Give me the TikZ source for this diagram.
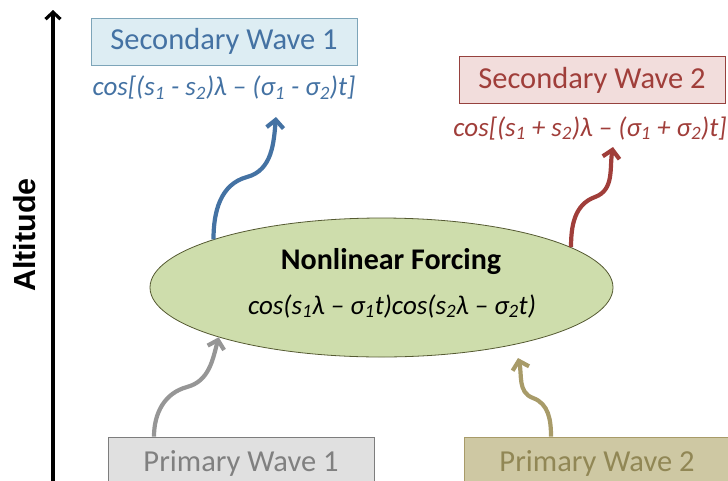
\documentclass[tikz,border=0pt]{standalone}
\usepackage{fontspec}
\setmainfont{Carlito}
\newfontfamily\altfont{Liberation Sans}
\usetikzlibrary{arrows.meta,positioning,shapes.geometric}
\definecolor{WaveBlue}{RGB}{68,114,163}
\definecolor{PaleBlue}{RGB}{221,237,243}
\definecolor{EdgeBlue}{RGB}{125,165,185}
\definecolor{WaveRed}{RGB}{160,62,58}
\definecolor{PaleRed}{RGB}{242,221,220}
\definecolor{EdgeRed}{RGB}{150,65,62}
\definecolor{Leaf}{RGB}{206,221,172}
\definecolor{LeafEdge}{RGB}{85,90,50}
\definecolor{WaveGrey}{RGB}{150,150,150}
\definecolor{PaleGrey}{RGB}{224,224,224}
\definecolor{EdgeGrey}{RGB}{125,125,125}
\definecolor{Olive}{RGB}{168,155,105}
\definecolor{PaleOlive}{RGB}{206,200,163}
\definecolor{TextOlive}{RGB}{145,135,85}
\tikzset{
  wavebox/.style={draw,line width=0.9pt,minimum width=266pt,minimum height=47pt,inner sep=0pt,font=\fontsize{30.5}{34}\selectfont},
  bluebox/.style={wavebox,draw=EdgeBlue,fill=PaleBlue,text=WaveBlue},
  redbox/.style={wavebox,draw=EdgeRed,fill=PaleRed,text=WaveRed},
  greybox/.style={wavebox,minimum height=52pt,draw=EdgeGrey,fill=PaleGrey,text=WaveGrey!85!black},
  olivebox/.style={wavebox,minimum height=52pt,draw=Olive,fill=PaleOlive,text=TextOlive},
  formula/.style={inner sep=0pt,font=\fontsize{27}{30}\selectfont\itshape},
  wavearrow/.style={line width=4.2pt,-{Straight Barb[length=8pt,width=17pt]}}
}
\begin{document}
\begin{tikzpicture}[x=1pt,y=-1pt]
\useasboundingbox (0,0) rectangle (728,480);
% altitude axis
\coordinate (axisbottom) at (53,482);
\coordinate (axistop) at (53,10);
\draw[line width=3.2pt,-{Straight Barb[length=7pt,width=15pt]}] (axisbottom) -- (axistop);
\node[rotate=90,font=\altfont\bfseries\fontsize{30.5}{34}\selectfont] (altitude) at (25,235) {Altitude};
% secondary waves
\node[bluebox] (sw1) at (224,41.5) {Secondary Wave 1};
\node[formula,text=WaveBlue] (sw1eq) at (224,88) {cos[(s\textsubscript{1} - s\textsubscript{2})λ -- (σ\textsubscript{1} - σ\textsubscript{2})t]};
\node[redbox] (sw2) at (592,80) {Secondary Wave 2};
\node[formula,text=WaveRed] (sw2eq) at (590,128) {cos[(s\textsubscript{1} + s\textsubscript{2})λ -- (σ\textsubscript{1} + σ\textsubscript{2})t]};
% forcing
\node[ellipse,draw=LeafEdge,fill=Leaf,line width=0.8pt,minimum width=463pt,minimum height=139pt,inner sep=0pt] (forcing) at (381.5,287.5) {};
\node[font=\bfseries\fontsize{30}{34}\selectfont] (forcingname) at (391,262) {Nonlinear Forcing};
\node[formula] (forcingeq) at (392,306) {cos(s\textsubscript{1}λ -- σ\textsubscript{1}t)cos(s\textsubscript{2}λ -- σ\textsubscript{2}t)};
% primary waves
\node[greybox] (pw1) at (241,463) {Primary Wave 1};
\node[olivebox] (pw2) at (597,463) {Primary Wave 2};
% arrow bends and tips
\coordinate (sw1mid) at (247,177);
\coordinate (sw1tip) at (276,117);
\coordinate (sw2mid) at (595,197);
\coordinate (sw2tip) at (613,147);
\coordinate (pw1mid) at (187,387);
\coordinate (pw2mid) at (533,398);
\coordinate (pw2tip) at (518,358);
\draw[wavearrow,WaveBlue] (forcing.164) to[out=90,in=195] (sw1mid) to[out=15,in=-95] (sw1tip);
\draw[wavearrow,WaveRed] (forcing.12) to[out=90,in=200] (sw2mid) to[out=20,in=-100] (sw2tip);
\draw[wavearrow,WaveGrey] ([xshift=-87pt]pw1.north) to[out=90,in=195] (pw1mid) to[out=15,in=-105] (forcing.-163.5);
\draw[wavearrow,Olive] ([xshift=-46pt]pw2.north) to[out=90,in=-20] (pw2mid) to[out=160,in=-75] (pw2tip);
\end{tikzpicture}
\end{document}
